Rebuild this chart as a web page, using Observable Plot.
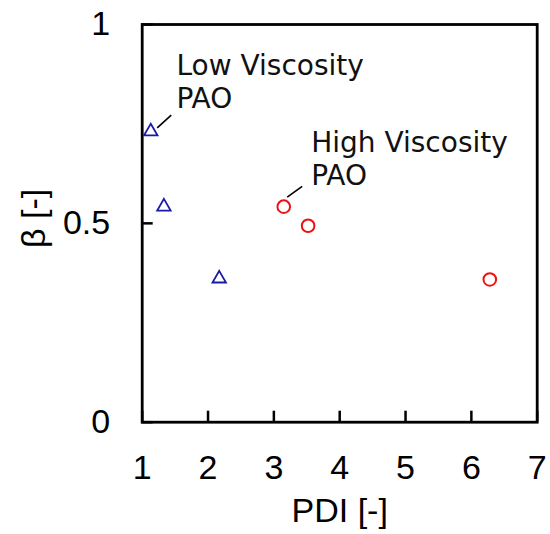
<!DOCTYPE html>
<html>
<head>
<meta charset="utf-8">
<script src="https://cdn.jsdelivr.net/npm/d3@7"></script>
<script src="https://cdn.jsdelivr.net/npm/@observablehq/plot@0.6"></script>
<style>
  html, body { margin: 0; padding: 0; background: #fff; }
</style>
</head>
<body>
<div id="chart"></div>
<script>
// Low viscosity PAO (triangles)
const lowPDI  = [1.13, 1.33, 2.17];
const lowBeta = [0.731, 0.542, 0.361];
// High viscosity PAO (circles)
const highPDI  = [3.15, 3.52, 6.28];
const highBeta = [0.542, 0.494, 0.359];

const xTicks = [1, 2, 3, 4, 5, 6, 7];
const xTickLabels = ["1", "2", "3", "4", "5", "6", "7"];
const yTicks = [0, 0.5, 1];
const yTickLabels = ["0", "0.5", "1"];
const xTitle = "PDI [-]";
const yTitle = "β [-]";

// annotations (data units)
const annoLabels = ["Low Viscosity\nPAO", "High Viscosity\nPAO"];
const annoX = [1.52, 3.567];
const annoY = [0.932, 0.738];
const leaderX1 = [1.228, 3.203];
const leaderY1 = [0.740, 0.566];
const leaderX2 = [1.441, 3.430];
const leaderY2 = [0.772, 0.593];

const low = lowPDI.map((x, i) => ({x, y: lowBeta[i]}));
const high = highPDI.map((x, i) => ({x, y: highBeta[i]}));
const annos = annoLabels.map((t, i) => ({t, x: annoX[i], y: annoY[i]}));
const leaders = leaderX1.map((x1, i) => ({x1, y1: leaderY1[i], x2: leaderX2[i], y2: leaderY2[i]}));

const ff = "'Liberation Sans', Arial, sans-serif";

const chart = Plot.plot({
  width: 550,
  height: 534,
  marginLeft: 141.7,
  marginRight: 13.3,
  marginTop: 24,
  marginBottom: 112.3,
  style: {fontFamily: ff, background: "#fff", color: "#000"},
  x: {domain: [1, 7]},
  y: {domain: [0, 1]},
  marks: [
    Plot.axisX({ticks: xTicks, tickSize: -11, tickFormat: () => "", strokeWidth: 2.5, label: null}),
    Plot.axisX({ticks: xTicks, tickSize: 0, tickPadding: 33, fontSize: 34, fontFamily: ff,
      tickFormat: (d, i) => xTickLabels[i], label: xTitle, labelArrow: "none", labelAnchor: "center", labelOffset: 100}),
    Plot.axisY({ticks: yTicks, tickSize: -11, tickFormat: () => "", strokeWidth: 2.5, label: null}),
    Plot.axisY({ticks: yTicks, tickSize: 0, tickPadding: 32, fontSize: 34, fontFamily: ff,
      tickFormat: (d, i) => yTickLabels[i], label: null}),
    Plot.text([yTitle], {frameAnchor: "left", text: d => d, rotate: -90, textAnchor: "middle", lineAnchor: "middle",
      dx: -108, dy: -5, fontSize: 34, fontFamily: ff, fill: "#000"}),
    Plot.frame({stroke: "#000", strokeWidth: 2.8}),
    Plot.link(leaders, {x1: "x1", y1: "y1", x2: "x2", y2: "y2", stroke: "#000", strokeWidth: 1.6}),
    Plot.text(annos, {x: "x", y: "y", text: "t", textAnchor: "start", lineAnchor: "top", lineHeight: 1.17, fontSize: 28, fontFamily: "'DejaVu Sans', sans-serif", fill: "#111"}),
    Plot.dot(low, {x: "x", y: "y", symbol: "triangle", r: 5, stroke: "#1a1aa8", strokeWidth: 1.8, fill: "none"}),
    Plot.dot(high, {x: "x", y: "y", symbol: "circle", r: 6.3, stroke: "#ee1111", strokeWidth: 2, fill: "none"})
  ]
});
document.getElementById("chart").appendChild(chart);
</script>
</body>
</html>
